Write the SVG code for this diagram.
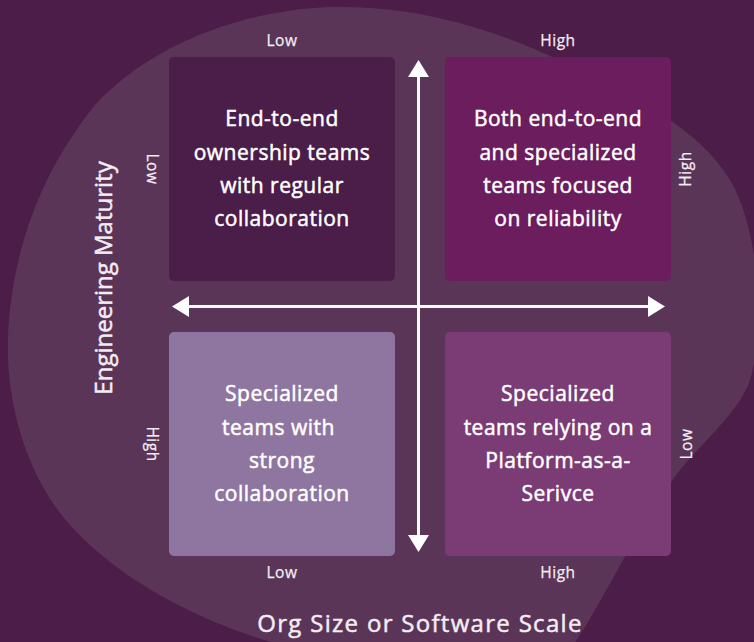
<svg xmlns="http://www.w3.org/2000/svg" width="754" height="642" viewBox="0 0 754 642">
  <defs>
    <style>
      .quad-text { font-family: "Open Sans", "Liberation Sans", sans-serif; font-size: 21px; letter-spacing: 0.5px; fill: #ffffff; stroke: #ffffff; stroke-width: 0.5px; text-anchor: middle; }
      .tick { font-family: "Open Sans", "Liberation Sans", sans-serif; font-size: 15.5px; letter-spacing: 0.5px; fill: #f3ecf2; stroke: #f3ecf2; stroke-width: 0.25px; text-anchor: middle; }
      .axis-title { font-family: "Open Sans", "Liberation Sans", sans-serif; font-size: 24px; fill: #f3ecf2; stroke: #f3ecf2; stroke-width: 0.5px; text-anchor: middle; }
      .axis-line { stroke: #ffffff; stroke-width: 3; fill: none; }
      .axis-head { fill: #ffffff; }
    </style>
  </defs>

  <!-- backdrop -->
  <rect x="0" y="0" width="754" height="642" fill="#4b1d48"/>

  <!-- soft blob behind the grid -->
  <path id="blob" fill="#5b3558"
        d="M 330,7 C 420,5 500,30 580,70 C 640,100 700,130 730,180 C 760,230 765,330 750,380 C 740,410 705,440 680,470 C 640,520 605,600 570,650 L 300,650 C 200,625 120,580 70,525 C 25,475 6,400 8,340 C 10,260 38,175 95,105 C 155,40 250,10 330,7 Z"/>

  <!-- quadrants -->
  <g id="q-top-left">
    <rect x="169" y="57" width="226" height="224" rx="5" fill="#4b1d49"/>
    <text class="quad-text" x="282" y="126">End-to-end</text>
    <text class="quad-text" x="282" y="160">ownership teams</text>
    <text class="quad-text" x="282" y="193">with regular</text>
    <text class="quad-text" x="282" y="226">collaboration</text>
  </g>

  <g id="q-top-right">
    <rect x="445" y="57" width="226" height="224" rx="5" fill="#6b1d5d"/>
    <text class="quad-text" x="558" y="126">Both end-to-end</text>
    <text class="quad-text" x="558" y="160">and specialized</text>
    <text class="quad-text" x="558" y="193">teams focused</text>
    <text class="quad-text" x="558" y="226">on reliability</text>
  </g>

  <g id="q-bottom-left">
    <rect x="169" y="332" width="226" height="224" rx="5" fill="#8f76a0"/>
    <text class="quad-text" x="282" y="401">Specialized</text>
    <text class="quad-text" x="278.5" y="435">teams with</text>
    <text class="quad-text" x="282" y="468">strong</text>
    <text class="quad-text" x="282" y="501">collaboration</text>
  </g>

  <g id="q-bottom-right">
    <rect x="445" y="332" width="226" height="224" rx="5" fill="#7b3b75"/>
    <text class="quad-text" x="558" y="401">Specialized</text>
    <text class="quad-text" x="558" y="435">teams relying on a</text>
    <text class="quad-text" x="558" y="468">Platform-as-a-</text>
    <text class="quad-text" x="558" y="501">Serivce</text>
  </g>

  <!-- axes -->
  <g id="connectors">
    <line class="axis-line" x1="418.5" y1="74" x2="418.5" y2="538"/>
    <polygon class="axis-head" points="418.5,60 429,77 408,77"/>
    <polygon class="axis-head" points="418.5,552 408,535 429,535"/>
    <line class="axis-line" x1="187" y1="306.5" x2="650" y2="306.5"/>
    <polygon class="axis-head" points="172,306.5 189,296 189,317"/>
    <polygon class="axis-head" points="665,306.5 648,296 648,317"/>
  </g>

  <!-- tick labels -->
  <g id="ticks">
    <text class="tick" x="282" y="46">Low</text>
    <text class="tick" x="558" y="46">High</text>
    <text class="tick" x="282" y="578">Low</text>
    <text class="tick" x="558" y="578">High</text>
    <text class="tick" transform="translate(147,169) rotate(90)">Low</text>
    <text class="tick" transform="translate(147,444) rotate(90)">High</text>
    <text class="tick" transform="translate(691,169) rotate(-90)">High</text>
    <text class="tick" transform="translate(692,444) rotate(-90)">Low</text>
  </g>

  <!-- axis titles -->
  <text id="x-title" class="axis-title" x="420" y="632" style="letter-spacing:1.3px">Org Size or Software Scale</text>
  <text id="y-title" class="axis-title" transform="translate(112,278) rotate(-90)">Engineering Maturity</text>
</svg>
